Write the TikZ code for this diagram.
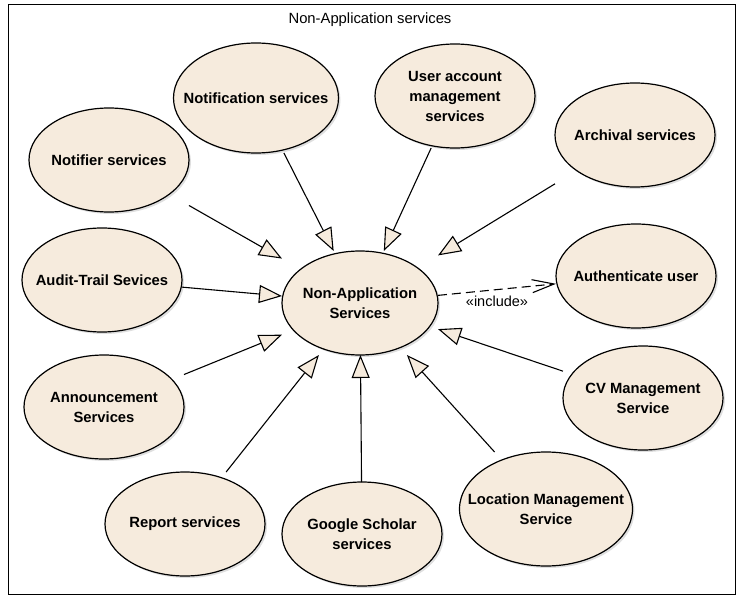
\documentclass[tikz,border=0pt]{standalone}
\usepackage{fontspec}
\setmainfont{Liberation Sans}
\usetikzlibrary{arrows.meta,backgrounds,calc,shadows}

\definecolor{ucfill}{RGB}{246,235,221}

\tikzset{
  usecase/.style={rectangle, inner sep=0pt, outer sep=0pt, minimum width=160pt,
    minimum height=104pt, align=center, font=\fontsize{14.8}{20}\selectfont\bfseries},
  ucshape/.style={draw, line width=1.2pt, fill=ucfill,
    drop shadow={shadow xshift=2pt, shadow yshift=-2pt, opacity=.25}},
  gen/.style={line width=1.1pt, -{Triangle[length=23pt, width=18pt, fill=ucfill]}},
  incl/.style={line width=1.1pt, dash pattern=on 9pt off 5pt,
    -{Straight Barb[length=22pt, width=13pt]}},
}

\begin{document}
\begin{tikzpicture}[x=1pt, y=-1pt]
  \useasboundingbox (0,0) rectangle (744,604);

  % frame and title
  \draw[line width=1pt] (8,5) rectangle (735,594);
  \node[font=\fontsize{14.8}{17}\selectfont] (title) at (370,20) {Non-Application services};

  % use cases
  \node[usecase] (notifier) at (109,160) {Notifier services};
  \node[usecase, minimum width=165pt, minimum height=110pt] (notification) at (256,98) {Notification services};
  \node[usecase] (useracc) at (455,96) {User account\\management\\services};
  \node[usecase] (archival) at (635,135) {Archival services};
  \node[usecase] (audit) at (102,280) {Audit-Trail Sevices};
  \node[usecase, minimum width=156pt] (nonapp) at (360,303) {Non-Application\\Services};
  \node[usecase] (auth) at (636,276) {Authenticate user};
  \node[usecase] (announce) at (104,407) {Announcement\\Services};
  \node[usecase] (cv) at (643,398) {CV Management\\Service};
  \node[usecase] (report) at (185,524) {Report services};
  \node[usecase] (google) at (362,534) {Google Scholar\\services};
  \node[usecase, minimum width=173pt, minimum height=114pt] (location) at (546,509) {Location Management\\Service};

  % ellipses behind the texts
  \begin{scope}[on background layer]
    \foreach \uc in {notifier, notification, useracc, archival, audit, nonapp,
                     auth, announce, cv, report, google, location} {
      \path[ucshape] let \p1=(\uc.south west), \p2=(\uc.north east) in
        (\uc.center) ellipse ({(\x2-\x1)/2} and {(\y2-\y1)/2});
    }
  \end{scope}

  % generalizations
  \foreach \uc in {notifier, notification, useracc, archival, audit,
                   announce, report, google, location, cv} {
    \draw[gen] (\uc) -- (nonapp);
  }

  \draw[incl] (nonapp) -- node[below=3pt, font=\fontsize{14.5}{16}\selectfont] (incllabel) {«include»} (auth);

\end{tikzpicture}
\end{document}
